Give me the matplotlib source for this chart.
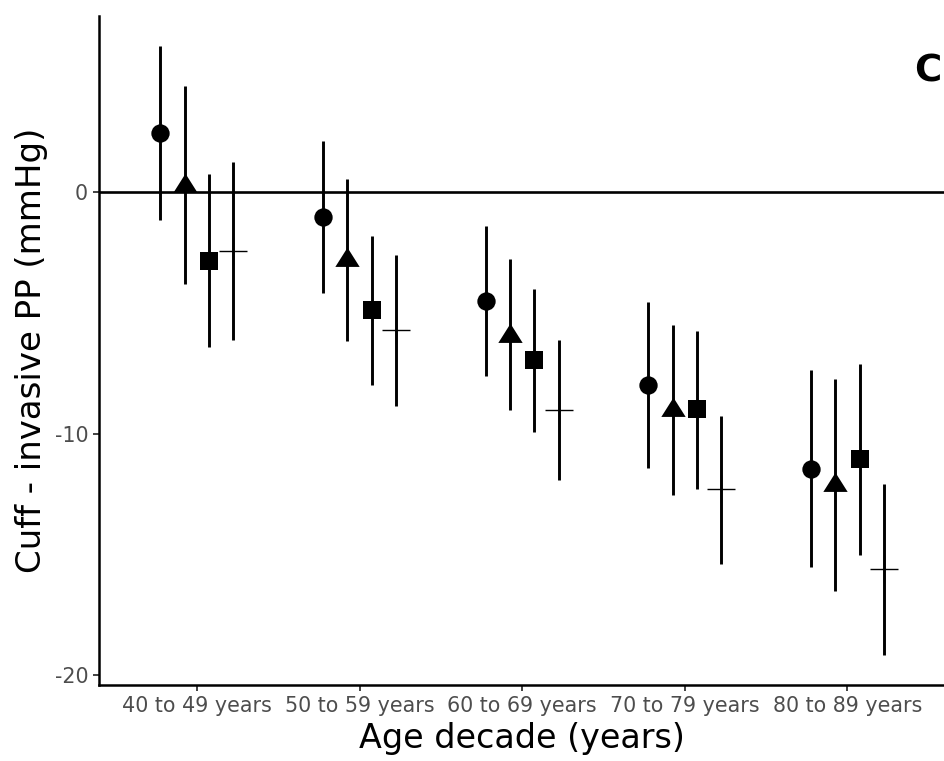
import numpy as np
import matplotlib.pyplot as plt

plt.rcParams['font.family'] = ['DejaVu Sans']
plt.rcParams['axes.unicode_minus'] = False

age_groups = ['40 to 49 years', '50 to 59 years', '60 to 69 years',
              '70 to 79 years', '80 to 89 years']

# circle series
circ_est = [2.48, -1.0, -4.5, -7.97, -11.45]
circ_lo = [-1.13, -4.19, -7.62, -11.42, -15.51]
circ_hi = [6.08, 2.15, -1.38, -4.53, -7.38]

# triangle series
tri_est = [0.27, -2.81, -5.94, -9.01, -12.13]
tri_lo = [-3.8, -6.16, -9.03, -12.55, -16.52]
tri_hi = [4.4, 0.55, -2.77, -5.5, -7.73]

# square series
sq_est = [-2.85, -4.88, -6.95, -9.0, -11.07]
sq_lo = [-6.4, -8.0, -9.93, -12.31, -15.03]
sq_hi = [0.75, -1.8, -4.0, -5.74, -7.12]

# plus series
plus_est = [-2.43, -5.72, -9.02, -12.31, -15.62]
plus_lo = [-6.1, -8.85, -11.93, -15.39, -19.16]
plus_hi = [1.25, -2.6, -6.1, -9.26, -12.08]

# triangle centred on its centroid
tri_marker = [(-12, -6.33), (12, -6.33), (0, 12.67), (-12, -6.33)]

series = [
    (circ_est, circ_lo, circ_hi, dict(marker='o', ms=13.2, mew=0)),
    (tri_est, tri_lo, tri_hi, dict(marker=tri_marker, ms=18.5, mew=0)),
    (sq_est, sq_lo, sq_hi, dict(marker='s', ms=13.5, mew=0)),
    (plus_est, plus_lo, plus_hi, dict(marker='+', ms=20, mew=1.0)),
]
offsets = [-0.225, -0.075, 0.075, 0.225]

fig = plt.figure(figsize=(9.45, 7.61), dpi=100)
ax = fig.add_axes([0.1051, 0.0999, 0.8949, 0.879])

x = np.arange(1, len(age_groups) + 1)

ax.axhline(0, color='black', lw=1.9, zorder=1)

for (est, lo, hi, mk), off in zip(series, offsets):
    xs = x + off
    ax.vlines(xs, lo, hi, color='black', lw=2.1, zorder=2)
    ax.plot(xs, est, linestyle='none', color='black', zorder=3, **mk)

ax.set_xlim(0.4, 5.6)
ax.set_ylim(-20.42, 7.31)
ax.set_xticks(x)
ax.set_xticklabels(age_groups)
ax.set_yticks([-20, -10, 0])
ax.set_yticklabels(['-20', '-10', '0'])

for side in ['top', 'right']:
    ax.spines[side].set_visible(False)
for side in ['left', 'bottom']:
    ax.spines[side].set_linewidth(1.8)
    ax.spines[side].set_color('black')

ax.tick_params(axis='both', length=4, width=1.3, color='#333333',
               labelcolor='#4D4D4D', labelsize=14.9, pad=4)

ax.set_xlabel('Age decade (years)', fontsize=24, color='black', labelpad=4)
ax.set_ylabel('Cuff - invasive PP (mmHg)', fontsize=24.5, color='black', labelpad=5)

fig.text(928 / 945, 1 - 71.5 / 761, 'C', fontsize=26.7, fontweight='bold',
         ha='center', va='center')

fig.savefig('out.png', dpi=100)
